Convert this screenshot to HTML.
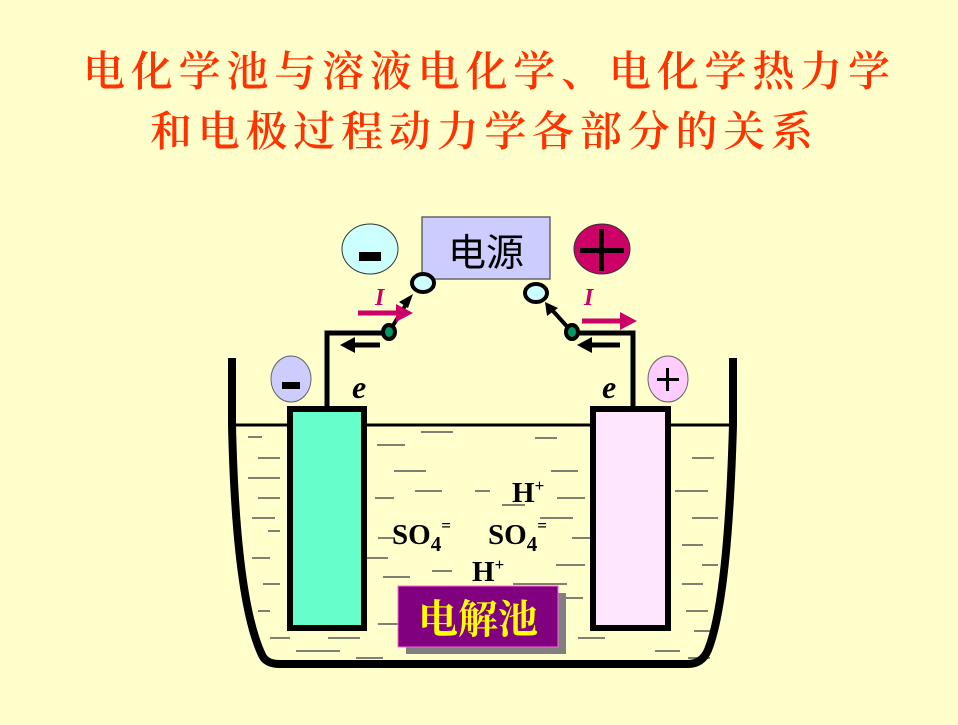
<!DOCTYPE html>
<html><head><meta charset="utf-8"><style>
html,body{margin:0;padding:0;background:#ffffcc;}
svg{display:block}
</style></head><body>
<svg width="958" height="725" viewBox="0 0 958 725" xmlns="http://www.w3.org/2000/svg">
<rect width="958" height="725" fill="#ffffcc"/>
<g font-family="'Noto Serif CJK SC',serif" font-weight="600" fill="#ff3300" font-size="42">
<text x="83" y="86" textLength="807" lengthAdjust="spacing">电化学池与溶液电化学、电化学热力学</text>
<text x="150" y="146" textLength="663" lengthAdjust="spacing">和电极过程动力学各部分的关系</text>
</g>
<!-- power source -->
<rect x="422" y="217" width="128" height="62" fill="#ccccff" stroke="#666" stroke-width="1.5"/>
<text x="486" y="266" text-anchor="middle" font-family="'Noto Sans CJK SC',sans-serif" font-size="38" fill="#000">电源</text>
<ellipse cx="370" cy="249" rx="28" ry="25" fill="#ccffff" stroke="#333" stroke-width="1"/>
<rect x="359" y="252" width="22" height="9" fill="#000"/>
<ellipse cx="602" cy="249" rx="28" ry="25" fill="#cc0066" stroke="#333" stroke-width="1"/>
<rect x="580" y="248" width="44" height="5" fill="#000"/><rect x="599" y="229" width="5" height="42" fill="#000"/>
<!-- terminals -->
<ellipse cx="423" cy="283" rx="11" ry="9" fill="#ccffff" stroke="#000" stroke-width="4"/>
<ellipse cx="536" cy="293" rx="11" ry="9" fill="#ccffff" stroke="#000" stroke-width="4"/>
<!-- switch arms -->
<line x1="389" y1="332" x2="405" y2="306" stroke="#000" stroke-width="4"/>
<polygon points="413,294 399,302 408,308" fill="#000"/>
<line x1="572" y1="332" x2="553" y2="311" stroke="#000" stroke-width="4"/>
<polygon points="545,302 547,316 558,308" fill="#000"/>
<!-- wires -->
<polyline points="389,333 327,333 327,406" fill="none" stroke="#000" stroke-width="5"/>
<polyline points="572,333 633,333 633,406" fill="none" stroke="#000" stroke-width="5"/>
<ellipse cx="389" cy="332" rx="6" ry="7" fill="#009966" stroke="#000" stroke-width="4"/>
<ellipse cx="572" cy="332" rx="6" ry="7" fill="#009966" stroke="#000" stroke-width="4"/>
<!-- black arrows -->
<line x1="380" y1="345" x2="352" y2="345" stroke="#000" stroke-width="5"/><polygon points="340,345 355,337 355,353" fill="#000"/>
<line x1="620" y1="345" x2="590" y2="345" stroke="#000" stroke-width="5"/><polygon points="577,345 592,337 592,353" fill="#000"/>
<!-- I arrows -->
<line x1="358" y1="313" x2="398" y2="313" stroke="#cc0066" stroke-width="5"/><polygon points="413,313 396,304 396,322" fill="#cc0066"/>
<line x1="582" y1="321" x2="622" y2="321" stroke="#cc0066" stroke-width="5"/><polygon points="637,321 620,312 620,330" fill="#cc0066"/>
<g font-family="'Liberation Serif',serif" font-weight="bold" font-style="italic">
<text x="375" y="305" font-size="24" fill="#cc0066">I</text>
<text x="584" y="305" font-size="24" fill="#cc0066">I</text>
<text x="352" y="398" font-size="32" fill="#000">e</text>
<text x="602" y="398" font-size="32" fill="#000">e</text>
</g>
<!-- small polarity circles -->
<ellipse cx="291" cy="379" rx="20" ry="23" fill="#ccccff" stroke="#666" stroke-width="1"/>
<rect x="282" y="382" width="18" height="7" fill="#000"/>
<ellipse cx="668" cy="379" rx="20" ry="23" fill="#ffccff" stroke="#666" stroke-width="1"/>
<rect x="657" y="378" width="22" height="3" fill="#000"/><rect x="666" y="368" width="3" height="23" fill="#000"/>
<!-- water line -->
<line x1="232" y1="425" x2="733" y2="425" stroke="#000" stroke-width="3"/>
<!-- dashes -->
<g stroke="#555" stroke-width="1.5">
<line x1="248" y1="437" x2="262" y2="437"/><line x1="258" y1="458" x2="280" y2="458"/><line x1="248" y1="478" x2="280" y2="478"/>
<line x1="258" y1="498" x2="280" y2="498"/><line x1="252" y1="518" x2="275" y2="518"/><line x1="268" y1="531" x2="280" y2="531"/>
<line x1="252" y1="558" x2="270" y2="558"/><line x1="263" y1="584" x2="280" y2="584"/><line x1="258" y1="611" x2="270" y2="611"/>
<line x1="270" y1="638" x2="290" y2="638"/><line x1="296" y1="651" x2="340" y2="651"/><line x1="328" y1="638" x2="360" y2="638"/>
<line x1="356" y1="658" x2="383" y2="658"/>
<line x1="421" y1="432" x2="453" y2="432"/><line x1="377" y1="445" x2="405" y2="445"/><line x1="394" y1="471" x2="426" y2="471"/>
<line x1="415" y1="491" x2="442" y2="491"/><line x1="375" y1="498" x2="394" y2="498"/><line x1="475" y1="491" x2="490" y2="491"/>
<line x1="502" y1="505" x2="525" y2="505"/><line x1="378" y1="538" x2="395" y2="538"/><line x1="367" y1="558" x2="388" y2="558"/>
<line x1="383" y1="577" x2="410" y2="577"/><line x1="432" y1="571" x2="452" y2="571"/><line x1="378" y1="624" x2="398" y2="624"/>
<line x1="535" y1="438" x2="557" y2="438"/><line x1="551" y1="471" x2="578" y2="471"/><line x1="557" y1="498" x2="585" y2="498"/>
<line x1="540" y1="518" x2="573" y2="518"/><line x1="572" y1="538" x2="591" y2="538"/><line x1="556" y1="565" x2="585" y2="565"/>
<line x1="513" y1="584" x2="567" y2="584"/><line x1="563" y1="598" x2="583" y2="598"/><line x1="578" y1="638" x2="605" y2="638"/>
<line x1="655" y1="651" x2="680" y2="651"/><line x1="688" y1="658" x2="710" y2="658"/>
<line x1="692" y1="458" x2="714" y2="458"/><line x1="675" y1="491" x2="708" y2="491"/><line x1="692" y1="518" x2="718" y2="518"/>
<line x1="682" y1="545" x2="703" y2="545"/><line x1="702" y1="565" x2="718" y2="565"/><line x1="682" y1="584" x2="703" y2="584"/>
<line x1="686" y1="611" x2="708" y2="611"/><line x1="694" y1="631" x2="712" y2="631"/>
</g>
<!-- beaker -->
<path d="M232,358 L232,425 Q236,600 262,655 Q266,664 280,664 L688,664 Q702,664 708,650 Q728,600 733,425 L733,358" fill="none" stroke="#000" stroke-width="8"/>
<!-- electrodes -->
<rect x="290" y="409" width="74" height="219" fill="#66ffcc" stroke="#000" stroke-width="6"/>
<rect x="593" y="409" width="75" height="219" fill="#ffe6ff" stroke="#000" stroke-width="6"/>
<!-- ions -->
<g font-family="'Liberation Serif',serif" font-weight="bold" fill="#000">
<text x="512" y="502" font-size="29">H<tspan font-size="17" dy="-11">+</tspan></text>
<text x="392" y="544" font-size="29">SO<tspan font-size="21" dy="7">4</tspan><tspan font-size="17" dy="-20">=</tspan></text>
<text x="488" y="544" font-size="29">SO<tspan font-size="21" dy="7">4</tspan><tspan font-size="17" dy="-20">=</tspan></text>
<text x="472" y="581" font-size="29">H<tspan font-size="17" dy="-11">+</tspan></text>
</g>
<!-- label box -->
<rect x="406" y="593" width="160" height="61" fill="#808080"/>
<rect x="398" y="586" width="160" height="61" fill="#800080" stroke="#ff66cc" stroke-width="1"/>
<text x="478" y="633" text-anchor="middle" font-family="'Noto Serif CJK SC',serif" font-weight="bold" font-size="40" fill="#ffff00">电解池</text>
</svg>
</body></html>
